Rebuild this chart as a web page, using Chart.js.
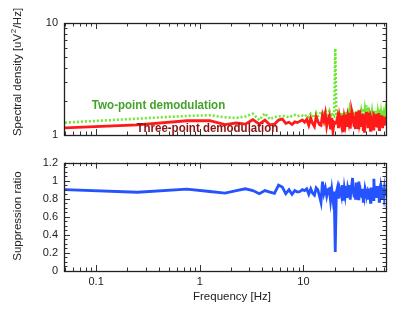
<!DOCTYPE html>
<html>
<head>
<meta charset="utf-8">
<script src="https://cdn.jsdelivr.net/npm/chart.js@4.4.1/dist/chart.umd.min.js"></script>
<style>
html,body{margin:0;padding:0;background:#fff;}
#wrap{position:relative;width:409px;height:315px;background:#fff;overflow:hidden;}
canvas{position:absolute;left:0;}
#c1{top:0;}
#c2{top:150px;}
</style>
</head>
<body>
<div id="wrap">
<canvas id="c1" width="409" height="150"></canvas>
<canvas id="c2" width="409" height="165"></canvas>
</div>
<script>
// ---------- DATA ----------
const freq = [0.05,0.25,0.75,1.25,1.75,2.25,2.75,3.25,3.75,4.25,4.75,5.25,5.75,6.25,6.75,7.25,7.75,8.25,8.75,9.25,9.75,
10.25,10.75,11.25,11.75,12.25,12.75,13.25,13.75,14.25,14.75,
15.25,15.75,16.25,16.75,17.25,17.75,18.25,18.75,19.25,19.75,
20.25,20.75,21.25,21.75,22.25,22.75,23.25,23.75,24.25,24.75,
25.25,25.75,26.25,26.75,27.25,27.75,28.25,28.75,29.25,29.75,
30.25,30.75,31.25,31.75,32.25,32.75,33.25,33.75,34.25,34.75,
35.25,35.75,36.25,36.75,37.25,37.75,38.25,38.75,39.25,39.75,
40.25,40.75,41.25,41.75,42.25,42.75,43.25,43.75,44.25,44.75,
45.25,45.75,46.25,46.75,47.25,47.75,48.25,48.75,49.25,49.75,
50.25,50.75,51.25,51.75,52.25,52.75,53.25,53.75,54.25,54.75,
55.25,55.75,56.25,56.75,57.25,57.75,58.25,58.75,59.25,59.75,
60.25,60.75,61.25,61.75,62.25];

const twoPoint = [1.29,1.40,1.48,1.50,1.44,1.42,1.46,1.55,1.36,1.56,1.38,1.45,1.46,1.48,1.47,1.43,1.48,1.51,1.47,1.50,1.49,
1.46,1.52,1.44,1.55,1.48,1.42,1.58,1.47,1.50,1.61,
1.51,1.56,1.68,1.45,1.53,1.63,1.44,1.57,1.50,1.47,
5.9,1.48,1.55,1.43,1.60,1.51,1.46,1.58,1.42,1.54,
1.50,1.62,1.45,1.57,1.49,1.66,1.44,1.53,1.71,1.48,
1.52,1.46,1.59,1.43,1.64,1.50,1.55,1.45,1.68,1.49,
1.57,1.44,1.62,1.51,1.73,1.46,1.58,1.42,1.66,1.53,
1.84,1.49,1.60,1.45,1.78,1.52,1.47,1.63,1.44,1.56,
1.50,1.61,1.46,1.55,1.43,1.49,1.67,1.45,1.58,1.51,
1.55,1.47,1.64,1.44,1.59,1.50,1.70,1.46,1.53,1.62,
1.48,1.57,1.43,1.65,1.52,1.46,1.60,1.49,1.55,1.44,
1.58,1.47,1.52,1.61,1.50];

const threePoint = [1.16,1.23,1.34,1.34,1.24,1.28,1.25,1.37,1.25,1.36,1.23,1.25,1.36,1.39,1.27,1.30,1.24,1.31,1.29,1.33,1.36,
1.30,1.38,1.22,1.41,1.27,1.19,1.45,1.33,1.24,1.22,
1.50,1.34,1.55,1.20,1.38,1.48,1.12,1.42,1.08,1.30,
1.27,1.29,1.42,1.15,1.47,1.33,1.21,1.50,1.06,1.40,
1.26,1.52,1.18,1.44,1.31,1.58,1.14,1.39,1.63,1.52,
1.34,1.21,1.48,1.13,1.60,1.27,1.43,1.16,1.66,1.30,
1.40,1.18,1.47,1.24,1.55,1.12,1.43,1.05,1.51,1.35,
1.61,1.25,1.44,1.15,1.58,1.33,1.19,1.49,1.10,1.42,
1.37,1.46,1.20,1.42,1.13,1.52,1.50,1.17,1.45,1.28,
1.41,1.22,1.54,1.16,1.46,1.27,1.57,1.12,1.38,1.49,
1.19,1.45,1.24,1.50,1.36,1.15,1.47,1.30,1.43,1.21,
1.42,1.26,1.33,1.46,1.30];

const suppression = [0.90,0.872,0.907,0.88,0.862,0.89,0.91,0.89,0.855,0.89,0.873,0.86,0.95,0.93,0.855,0.90,0.848,0.89,0.875,0.88,0.90,
0.89,0.91,0.85,0.91,0.86,0.84,0.92,0.90,0.83,0.76,
0.99,0.86,0.92,0.83,0.90,0.91,0.78,0.90,0.79,0.88,
0.21,0.87,0.92,0.80,0.92,0.88,0.83,0.95,0.78,0.91,
0.84,0.94,0.81,0.92,0.88,0.95,0.79,0.91,0.96,1.03,
0.88,0.83,0.93,0.79,0.98,0.85,0.92,0.80,0.99,0.87,
0.89,0.82,0.91,0.82,0.90,0.77,0.91,0.85,0.91,0.88,
0.88,0.84,0.90,0.79,0.89,0.88,0.81,0.91,0.76,0.91,
0.91,0.91,0.82,0.92,0.79,1.02,0.90,0.81,0.92,0.85,
0.91,0.83,0.94,0.81,0.92,0.85,0.92,0.77,0.90,0.92,
0.80,0.92,0.87,0.91,0.89,0.79,0.92,0.87,0.92,0.84,
0.90,0.86,0.88,0.91,0.87];

// tick values / labels
const xMajorTicks = [0.1, 1, 10];
const xTickLabels = ['0.1', '1', '10'];
const xMinorTicks = [0.05,0.06,0.07,0.08,0.09,0.2,0.3,0.4,0.5,0.6,0.7,0.8,0.9,2,3,4,5,6,7,8,9,20,30,40,50,60];
const psdMajorTicks = [1, 10];
const psdTickLabels = ['1', '10'];
const psdMinorTicks = [2,3,4,5,6,7,8,9];
const ratioMajorTicks = [0, 0.2, 0.4, 0.6, 0.8, 1, 1.2];
const ratioTickLabels = ['0', '0.2', '0.4', '0.6', '0.8', '1', '1.2'];
const ratioMinorTicks = [0.05,0.1,0.15,0.25,0.3,0.35,0.45,0.5,0.55,0.65,0.7,0.75,0.85,0.9,0.95,1.05,1.1,1.15];

// ---------- helpers ----------
const FONT = "'Liberation Sans', Arial, Helvetica, sans-serif";
const TXT = '#222';

function pts(ys){ return freq.map((f,i)=>({x:f, y:ys[i]})); }

function drawTicks(ctx, ca, xs, ys, xMaj, xMin, yMaj, yMin){
  ctx.save();
  ctx.strokeStyle = '#333';
  ctx.lineWidth = 1;
  ctx.beginPath();
  const MJ = 6, MN = 3.5;
  const xt = (v,len)=>{ const p = Math.round(xs.getPixelForValue(v))+0.5;
    ctx.moveTo(p, ca.bottom); ctx.lineTo(p, ca.bottom-len);
    ctx.moveTo(p, ca.top); ctx.lineTo(p, ca.top+len); };
  const yt = (v,len)=>{ const p = Math.round(ys.getPixelForValue(v))+0.5;
    ctx.moveTo(ca.left, p); ctx.lineTo(ca.left+len, p);
    ctx.moveTo(ca.right, p); ctx.lineTo(ca.right-len, p); };
  xMaj.forEach(v=>xt(v,MJ)); xMin.forEach(v=>xt(v,MN));
  yMaj.forEach(v=>yt(v,MJ)); yMin.forEach(v=>yt(v,MN));
  ctx.stroke();
  ctx.lineWidth = 1.3;
  ctx.strokeStyle = '#222';
  ctx.strokeRect(Math.round(ca.left)+0.5, Math.round(ca.top)+0.5, Math.round(ca.right-ca.left), Math.round(ca.bottom-ca.top));
  ctx.restore();
}

// ---------- top chart ----------
const topPlugin = {
  id:'topDecor',
  afterDraw(chart){
    const ctx = chart.ctx, ca = chart.chartArea, xs = chart.scales.x, ys = chart.scales.y;
    drawTicks(ctx, ca, xs, ys, xMajorTicks, xMinorTicks, psdMajorTicks, psdMinorTicks);
    ctx.save();
    // annotations
    ctx.font = "bold 12.5px " + FONT;
    ctx.textBaseline = 'alphabetic';
    ctx.textAlign = 'left';
    let px = xs.getPixelForValue(0.091), py = ys.getPixelForValue(1.72);
    ctx.setTransform(0.925,0,0,1,px,py);
    ctx.fillStyle = '#44a32a';
    ctx.fillText('Two-point demodulation', 0, 0);
    px = xs.getPixelForValue(0.245); py = ys.getPixelForValue(1.057);
    ctx.setTransform(0.92,0,0,1,px,py);
    ctx.fillStyle = '#8a1414';
    ctx.fillText('Three-point demodulation', 0, 0);
    ctx.setTransform(1,0,0,1,0,0);
    // y title with superscript
    ctx.translate(21, 72);
    ctx.rotate(-Math.PI/2);
    ctx.fillStyle = TXT;
    const f1 = "11.5px " + FONT, f2 = "8px " + FONT;
    const a = 'Spectral density [uV', b = '2', c = '/Hz]';
    ctx.font = f1; const wa = ctx.measureText(a).width, wc = ctx.measureText(c).width;
    ctx.font = f2; const wb = ctx.measureText(b).width + 1;
    let x0 = -(wa+wb+wc)/2;
    ctx.font = f1; ctx.fillText(a, x0, 0);
    ctx.font = f2; ctx.fillText(b, x0+wa+0.5, -5);
    ctx.font = f1; ctx.fillText(c, x0+wa+wb, 0);
    ctx.restore();
  }
};

new Chart(document.getElementById('c1'), {
  type:'line',
  data:{ datasets:[
    { label:'Three-point demodulation', data:pts(threePoint), borderColor:'#ff1a1a', borderWidth:2.8, pointRadius:0, tension:0, order:0 },
    { label:'Two-point demodulation', data:pts(twoPoint), borderColor:'#6ee830', borderWidth:2.6, borderDash:[2,2], pointRadius:0, tension:0, order:1 }
  ]},
  options:{
    responsive:false, animation:false, devicePixelRatio:1,
    layout:{ padding:{ left:0, right:23, top:23, bottom:15 } },
    plugins:{ legend:{display:false}, tooltip:{enabled:false} },
    scales:{
      x:{ type:'logarithmic', min:0.049, max:62.5,
          ticks:{display:false}, grid:{display:false, drawTicks:false}, border:{display:false},
          afterFit(s){ s.height = 0; } },
      y:{ type:'logarithmic', min:1, max:10,
          afterBuildTicks(s){ s.ticks = psdMajorTicks.map(v=>({value:v})); },
          ticks:{ autoSkip:false, padding:6, color:TXT, font:{family:FONT, size:11},
                  callback:(v)=>{ const i = psdMajorTicks.indexOf(v); return i>=0 ? psdTickLabels[i] : ''; } },
          grid:{display:false, drawTicks:false}, border:{display:false},
          afterFit(s){ s.width = 64; } }
    }
  },
  plugins:[topPlugin]
});

// ---------- bottom chart ----------
const botPlugin = {
  id:'botDecor',
  afterDraw(chart){
    const ctx = chart.ctx, ca = chart.chartArea, xs = chart.scales.x, ys = chart.scales.y;
    drawTicks(ctx, ca, xs, ys, xMajorTicks, xMinorTicks, ratioMajorTicks, ratioMinorTicks);
    ctx.save();
    ctx.fillStyle = TXT;
    ctx.font = "11.5px " + FONT;
    ctx.textAlign = 'center';
    ctx.textBaseline = 'alphabetic';
    ctx.fillText('Frequency [Hz]', 232, 150);
    ctx.translate(21, 66);
    ctx.rotate(-Math.PI/2);
    ctx.fillText('Suppression ratio', 0, 0);
    ctx.restore();
  }
};

new Chart(document.getElementById('c2'), {
  type:'line',
  data:{ datasets:[
    { label:'Suppression ratio', data:pts(suppression), borderColor:'#2453ff', borderWidth:2.8, pointRadius:0, tension:0 }
  ]},
  options:{
    responsive:false, animation:false, devicePixelRatio:1,
    layout:{ padding:{ left:0, right:23, top:7, bottom:0 } },
    plugins:{ legend:{display:false}, tooltip:{enabled:false} },
    scales:{
      x:{ type:'logarithmic', min:0.049, max:62.5,
          afterBuildTicks(s){ s.ticks = xMajorTicks.map(v=>({value:v})); },
          ticks:{ autoSkip:false, maxRotation:0, padding:4, color:TXT, font:{family:FONT, size:11},
                  callback:(v)=>{ const i = xMajorTicks.indexOf(v); return i>=0 ? xTickLabels[i] : ''; } },
          grid:{display:false, drawTicks:false}, border:{display:false},
          afterFit(s){ s.height = 44; } },
      y:{ type:'linear', min:0, max:1.2,
          afterBuildTicks(s){ s.ticks = ratioMajorTicks.map(v=>({value:v})); },
          ticks:{ autoSkip:false, padding:6, color:TXT, font:{family:FONT, size:11},
                  callback:(v)=>{ const i = ratioMajorTicks.findIndex(t=>Math.abs(t-v)<1e-9); return i>=0 ? ratioTickLabels[i] : ''; } },
          grid:{display:false, drawTicks:false}, border:{display:false},
          afterFit(s){ s.width = 64; } }
    }
  },
  plugins:[botPlugin]
});
</script>
</body>
</html>
